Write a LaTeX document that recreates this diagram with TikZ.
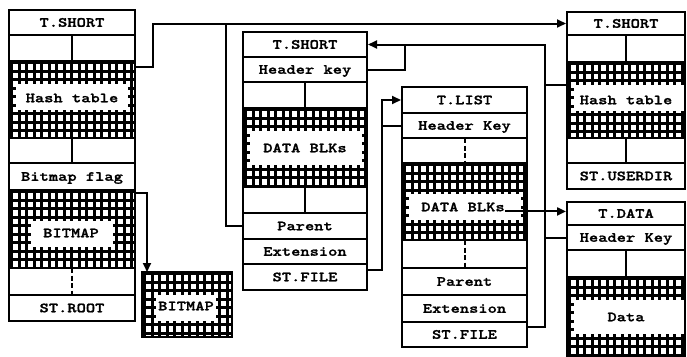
\documentclass[tikz,border=0pt]{standalone}
\usepackage{fontspec}
\usetikzlibrary{arrows.meta}
\newfontfamily\cellfont{lmmonolt10-bold.otf}[FakeStretch=1.26,FakeBold=1.4]
\tikzset{
  cellline/.style={line width=2pt},
  cell/.style={draw,line width=2pt,inner sep=0pt,text height=8.5pt,text depth=0pt,font={\cellfont\fontsize{14}{14}\selectfont}},
  txt/.style={inner sep=0pt,text height=8.5pt,text depth=0pt,font={\cellfont\fontsize{14}{14}\selectfont}},
  gridline/.style={line width=2.6pt},
  dashdiv/.style={dash pattern=on 5pt off 2.5pt},
  link/.style={line width=2pt},
  ptr/.style={link,-{Triangle[length=9pt,width=8pt]}}
}
\newcommand{\splitrow}[5]{%
  \draw[cellline] (#1,#2) rectangle (#3,#4);
  \draw[cellline,#5] ({(#1+#3)/2},#2) -- ({(#1+#3)/2},#4);}
\newcommand{\hatch}[8]{%
  \begin{scope}
    \clip (#1,#2) rectangle (#3,#4);
    \foreach \i in {0,...,17} \draw[gridline] (#1+2.7+7.5*\i,#2) -- (#1+2.7+7.5*\i,#4);
    \foreach \j in {0,...,11} \draw[gridline] (#1,#2+1.7+8.5*\j) -- (#3,#2+1.7+8.5*\j);
  \end{scope}
  \fill[white] (#1+2.7+7.5*#5+3.8,#2+1.7+8.5*#6+3.8) rectangle (#1+2.7+7.5*#7-3.8,#2+1.7+8.5*#8-3.8);
  \draw[cellline] (#1,#2) rectangle (#3,#4);}
\begin{document}
\begin{tikzpicture}[x=1pt,y=-1pt]
  \useasboundingbox (0,0) rectangle (687,356);
  \clip (0,0) rectangle (687,356);
  % root block
  \node[cell,minimum width=126pt,minimum height=25pt] (t1) at (72,22.5) {T.SHORT};
  \splitrow{9}{35}{135}{61}{}
  \hatch{9}{61}{135}{138}{0}{2}{16}{6}
  \node[txt] (hash1) at (72,98) {Hash table};
  \splitrow{9}{138}{135}{163}{}
  \node[cell,minimum width=126pt,minimum height=27pt] (bf1) at (72,176.5) {Bitmap flag};
  \hatch{9}{190}{135}{268}{2}{3}{14}{7}
  \node[txt] (bmp1) at (71,233) {BITMAP};
  \splitrow{9}{268}{135}{295}{dashdiv}
  \node[cell,minimum width=126pt,minimum height=26pt] (sr1) at (72,308) {ST.ROOT};
  \hatch{142}{272}{232}{337}{1}{2}{10}{6}
  \node[txt] (bmp2) at (186,306) {BITMAP};
  % file header block
  \node[cell,minimum width=124pt,minimum height=25pt] (t2) at (305,44.5) {T.SHORT};
  \node[cell,minimum width=124pt,minimum height=25pt] (hk2) at (305,69.5) {Header key};
  \splitrow{243}{82}{367}{108}{}
  \hatch{243}{108}{367}{187}{0}{2}{16}{7}
  \node[txt] (blk2) at (305,148) {DATA BLKs};
  \splitrow{243}{187}{367}{213}{}
  \node[cell,minimum width=124pt,minimum height=26pt] (pa2) at (305,226) {Parent};
  \node[cell,minimum width=124pt,minimum height=25pt] (ex2) at (305,251.5) {Extension};
  \node[cell,minimum width=124pt,minimum height=26pt] (sf2) at (305,277) {ST.FILE};
  % extension block
  \node[cell,minimum width=125pt,minimum height=26pt] (t3) at (464.5,100) {T.LIST};
  \node[cell,minimum width=125pt,minimum height=25pt] (hk3) at (464.5,125.5) {Header Key};
  \splitrow{402}{138}{527}{163}{dashdiv}
  \hatch{402}{163}{527}{240}{0}{3}{16}{7}
  \node[txt] (blk3) at (463,207) {DATA BLKs};
  \splitrow{402}{240}{527}{268}{dashdiv}
  \node[cell,minimum width=125pt,minimum height=27pt] (pa3) at (464.5,281.5) {Parent};
  \node[cell,minimum width=125pt,minimum height=27pt] (ex3) at (464.5,308.5) {Extension};
  \node[cell,minimum width=125pt,minimum height=25pt] (sf3) at (464.5,334.5) {ST.FILE};
  % user directory block
  \node[cell,minimum width=118pt,minimum height=23pt] (t4) at (626,23.5) {T.SHORT};
  \splitrow{567}{35}{685}{62}{}
  \hatch{567}{62}{685}{138}{0}{2}{16}{6}
  \node[txt] (hash4) at (626,100) {Hash table};
  \splitrow{567}{138}{685}{163}{}
  \node[cell,minimum width=118pt,minimum height=26pt] (su4) at (626,176) {ST.USERDIR};
  % data block
  \node[cell,minimum width=118pt,minimum height=23pt] (td5) at (626,213.5) {T.DATA};
  \node[cell,minimum width=118pt,minimum height=25pt] (hk5) at (626,237.5) {Header Key};
  \splitrow{567}{250}{685}{277}{}
  \hatch{567}{277}{685}{362}{0}{2}{16}{7}
  \node[txt] (data5) at (626,317) {Data};
  % links
  \coordinate (h1out) at (135,67);
  \coordinate (b1out) at (135,193);
  \coordinate (bmin) at (147,272);
  \coordinate (h4in) at (567,85);
  \coordinate (s2) at (367,270);
  \coordinate (s3) at (527,327);
  \coordinate (bus1) at (226,0);
  \coordinate (bus2) at (382,0);
  \coordinate (bus3) at (545,0);
  \coordinate (loop2) at (405,0);
  \draw[ptr] (h1out) -- ++(18,0) |- (t4.west);
  \draw[link] (pa2.west) -- (pa2.west -| bus1) -- (bus1 |- t4.west);
  \draw[ptr] (b1out) -| (bmin);
  \draw[ptr] (s3) -- (s3 -| bus3) |- (t2.east);
  \draw[link] (hk2.east) -- (hk2.east -| loop2) -- (loop2 |- t2.east);
  \draw[link] (h4in) -- (h4in -| bus3);
  \draw[link] (hk5.west) -- (hk5.west -| bus3);
  \draw[ptr] (s2) -- (s2 -| bus2) |- (t3.west);
  \draw[link] (hk3.west) -- (hk3.west -| bus2);
  \draw[ptr] (blk3.south east) -- (blk3.south east -| td5.west);
\end{tikzpicture}
\end{document}
